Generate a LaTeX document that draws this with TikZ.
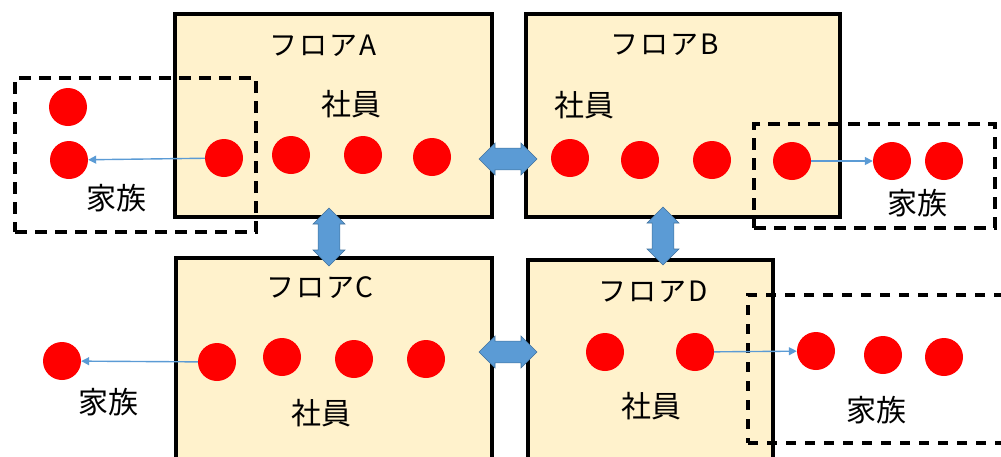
\documentclass[tikz,border=0pt]{standalone}
\usepackage{fontspec}
\setmainfont{Noto Sans CJK JP}
\newfontfamily\widejp[LetterSpace=7]{Noto Sans CJK JP}
\usetikzlibrary{positioning,shapes.arrows,arrows.meta}
\definecolor{floorfill}{HTML}{FFF2CC}
\definecolor{linkblue}{HTML}{5B9BD5}
\definecolor{linkedge}{HTML}{41719C}

\begin{document}
\begin{tikzpicture}
  [x=1pt,y=-1pt,
   floor/.style={draw,line width=3.4pt,fill=floorfill,inner sep=0pt},
   family/.style={draw,line width=3.4pt,dash pattern=on 12pt off 8pt,inner sep=0pt},
   staff/.style={circle,fill=red,minimum size=38pt,inner sep=0pt},
   title/.style={font=\widejp\fontsize{28}{30}\selectfont},
   word/.style={font=\fontsize{30}{32}\selectfont},
   link/.style={double arrow,fill=linkblue,draw=linkedge,line width=.6pt,
     minimum height=58pt,minimum width=32pt,inner xsep=0pt,inner ysep=10.5pt,
     double arrow head extend=5pt},
   move/.style={-{Triangle[length=8pt,width=8pt]},linkblue,line width=1.4pt}]
  \useasboundingbox (0,0) rectangle (1001,456);
  \clip (0,0) rectangle (1001,456);

  % floors
  \node[floor,minimum width=317pt,minimum height=203pt] (floorA) at (333.5,115.5) {};
  \node[floor,minimum width=314pt,minimum height=203pt] (floorB) at (683,115.5) {};
  \node[floor,minimum width=316pt,minimum height=222pt] (floorC) at (334,369) {};
  \node[floor,minimum width=245pt,minimum height=220pt] (floorD) at (650.5,370) {};

  % family groups
  \node[family,minimum width=241pt,minimum height=154pt] (famA) at (135.5,155) {};
  \node[family,minimum width=241pt,minimum height=104pt] (famB) at (874.5,176) {};
  \node[family,dash pattern=on 10pt off 9pt,minimum width=282pt,minimum height=148pt] (famD) at (889,369) {};

  \node[title] (tA) at (323,46) {フロアA};
  \node[title] (tB) at (665,45) {フロアB};
  \node[title] (tC) at (320,288) {フロアC};
  \node[title] (tD) at (653,292) {フロアD};

  \node[word] (sA) at (351,104) {社員};
  \node[word] (sB) at (584,105) {社員};
  \node[word] (sC) at (321,413) {社員};
  \node[word] (sD) at (651,406) {社員};

  \node[word] (kA) at (116,198) {家族};
  \node[word] (kB) at (917,203) {家族};
  \node[word] (kC) at (108,402) {家族};
  \node[word] (kD) at (876,410) {家族};

  % staff
  \node[staff] (a1) at (224,158) {};
  \node[staff] (a2) at (291,155) {};
  \node[staff] (a3) at (363,155) {};
  \node[staff] (a4) at (432,157) {};
  \node[staff] (b1) at (570,158) {};
  \node[staff] (b2) at (640,160) {};
  \node[staff] (b3) at (712,160) {};
  \node[staff] (b4) at (792,161) {};
  \node[staff] (c1) at (217,362) {};
  \node[staff] (c2) at (282,357) {};
  \node[staff] (c3) at (354,359) {};
  \node[staff] (c4) at (426,359) {};
  \node[staff] (d1) at (605,352) {};
  \node[staff] (d2) at (695,352) {};

  % families
  \node[staff] (fa1) at (68,107) {};
  \node[staff] (fa2) at (69,160) {};
  \node[staff] (fb1) at (892,161) {};
  \node[staff] (fb2) at (944,161) {};
  \node[staff] (fc1) at (62,361) {};
  \node[staff] (fd1) at (816,351) {};
  \node[staff] (fd2) at (883,355) {};
  \node[staff] (fd3) at (944,357) {};

  \draw[move] (a1) -- (fa2);
  \draw[move] (b4) -- (fb1);
  \draw[move] (c1) -- (fc1);
  \draw[move] (d2) -- (fd1);

  % links between floors
  \node[link] (ab) at (508,159) {};
  \node[link] (cd) at (508,352) {};
  \node[link,rotate=90] (ac) at (329,237) {};
  \node[link,rotate=90] (bd) at (663,236) {};
\end{tikzpicture}
\end{document}
